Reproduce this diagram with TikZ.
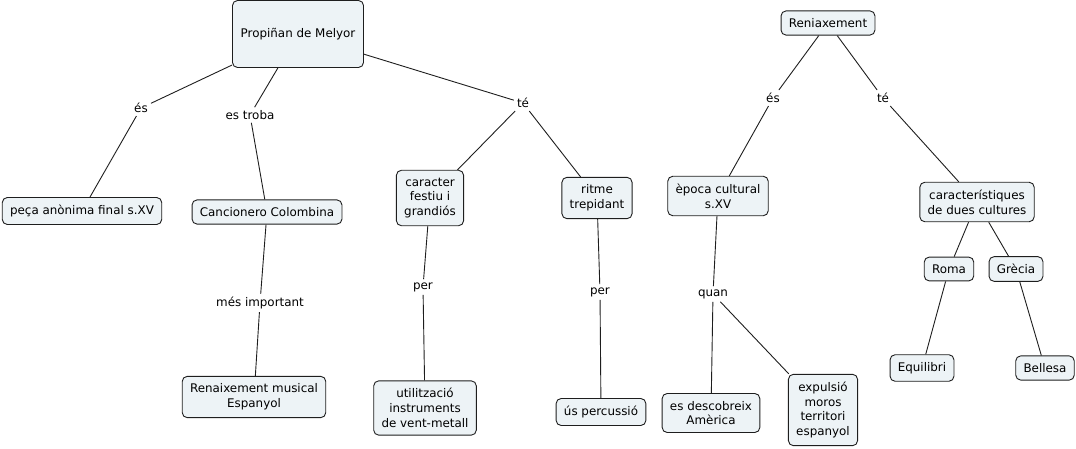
\documentclass[tikz,border=0pt]{standalone}
\usepackage{fontspec}
\setmainfont{DejaVu Sans}
\usetikzlibrary{positioning}
\definecolor{conceptfill}{RGB}{237,243,246}
\definecolor{conceptline}{RGB}{30,30,30}
\tikzset{%
  concept/.style = {rectangle, draw=conceptline, fill=conceptfill,
                    rounded corners=5pt, align=center, line width=0.9pt,
                    inner xsep=7.8pt, inner ysep=7.5pt,
                    font=\fontsize{11.9}{14.8}\selectfont},
  linkword/.style = {inner sep=3pt, font=\fontsize{11.9}{14.8}\selectfont},
  link/.style = {draw=conceptline, line width=0.9pt}
  }

\begin{document}
\begin{tikzpicture}[x=1pt, y=-1pt]
  \useasboundingbox (0,0) rectangle (1076,449);

  % left map
  \node (prop) [concept, minimum width=131pt, minimum height=67pt] at (298,34) {Propiñan de Melyor};
  \node (peca) [concept] at (82,211) {peça anònima final s.XV};
  \node (canc) [concept] at (267,212) {Cancionero Colombina};
  \node (festiu) [concept] at (430,198) {caracter\\festiu i\\grandiós};
  \node (ritme) [concept] at (597,198) {ritme\\trepidant};
  \node (renmus) [concept] at (254,397) {Renaixement musical\\Espanyol};
  \node (vent) [concept] at (425,408) {utilització\\instruments\\de vent-metall};
  \node (perc) [concept] at (601,412) {ús percussió};

  \node (esA) [linkword] at (141,108) {és};
  \node (troba) [linkword] at (250,115) {es troba};
  \node (teA) [linkword] at (523,103) {té};
  \node (import) [linkword] at (260,303) {més important};
  \node (perA) [linkword] at (423,287) {per};
  \node (perB) [linkword] at (600,292) {per};

  % right map
  \node (ren) [concept] at (828,23) {Reniaxement};
  \node (epoca) [concept] at (718,196) {època cultural\\s.XV};
  \node (cult) [concept] at (977,202) {característiques\\de dues cultures};
  \node (roma) [concept] at (949,269) {Roma};
  \node (grecia) [concept] at (1016,269) {Grècia};
  \node (equil) [concept] at (922,368) {Equilibri};
  \node (bell) [concept] at (1045,368) {Bellesa};
  \node (amer) [concept] at (711,413) {es descobreix\\Amèrica};
  \node (moros) [concept] at (823,410) {expulsió\\moros\\territori\\espanyol};

  \node (esB) [linkword] at (773,98) {és};
  \node (teB) [linkword] at (883,98) {té};
  \node (quan) [linkword] at (713,294) {quan};

  \path[link]
    (prop) edge (esA)   (esA) edge (peca)
    (prop) edge (troba) (troba) edge (canc)
    (prop) edge (teA)   (teA) edge (festiu) (teA) edge (ritme)
    (canc) edge (import) (import) edge (renmus)
    (festiu) edge (perA) (perA) edge (vent)
    (ritme) edge (perB) (perB) edge (perc);
  \path[link]
    (ren) edge (esB)  (esB) edge (epoca)
    (ren) edge (teB)  (teB) edge (cult)
    (epoca) edge (quan) (quan) edge (amer) (quan) edge (moros)
    (cult) edge (roma) (cult) edge (grecia)
    (roma) edge (equil) (grecia) edge (bell);
\end{tikzpicture}
\end{document}
